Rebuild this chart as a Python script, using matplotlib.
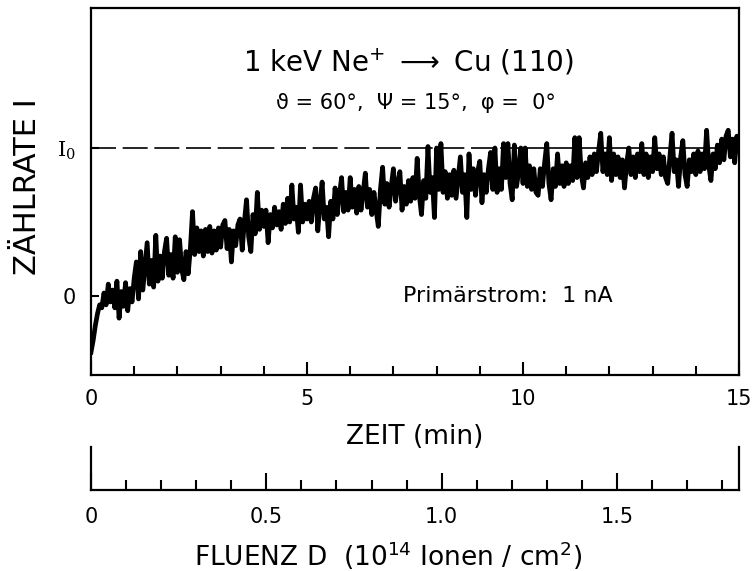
import numpy as np
import matplotlib.pyplot as plt
from matplotlib.ticker import MultipleLocator

plt.rcParams['font.family'] = ['DejaVu Sans']
plt.rcParams['mathtext.default'] = 'regular'

rate = [
    -0.38, -0.30, -0.20, -0.12, -0.06, -0.08, 0.02, -0.06, 0.08, -0.04,
    0.04, -0.08, 0.10, -0.15, 0.03, -0.07, 0.09, -0.10, 0.05, -0.04,
    0.12, 0.23, -0.02, 0.30, 0.04, 0.20, 0.36, 0.08, 0.24, 0.06,
    0.41, 0.10, 0.27, 0.12, 0.30, 0.39, 0.14, 0.28, 0.12, 0.40,
    0.16, 0.38, 0.18, 0.11, 0.30, 0.15, 0.32, 0.57, 0.28, 0.46,
    0.30, 0.44, 0.27, 0.45, 0.30, 0.47, 0.29, 0.44, 0.31, 0.46,
    0.33, 0.48, 0.51, 0.32, 0.45, 0.23, 0.44, 0.34, 0.48, 0.52,
    0.31, 0.50, 0.65, 0.40, 0.30, 0.55, 0.42, 0.70, 0.45, 0.58,
    0.47, 0.58, 0.36, 0.55, 0.46, 0.60, 0.48, 0.57, 0.45, 0.62,
    0.49, 0.66, 0.50, 0.75, 0.52, 0.60, 0.43, 0.75, 0.50, 0.62,
    0.52, 0.64, 0.50, 0.66, 0.73, 0.44, 0.62, 0.77, 0.52, 0.60,
    0.40, 0.64, 0.52, 0.73, 0.55, 0.68, 0.80, 0.57, 0.70, 0.58,
    0.80, 0.60, 0.72, 0.56, 0.74, 0.58, 0.70, 0.83, 0.60, 0.72,
    0.55, 0.70, 0.58, 0.47, 0.72, 0.87, 0.62, 0.76, 0.60, 0.74,
    0.86, 0.64, 0.76, 0.84, 0.58, 0.74, 0.62, 0.78, 0.64, 0.80,
    0.66, 0.93, 0.68, 0.55, 0.78, 0.66, 1.01, 0.70, 0.80, 0.53,
    1.00, 0.72, 1.03, 0.70, 0.84, 0.66, 0.82, 0.68, 0.85, 0.66,
    0.80, 0.94, 0.70, 0.82, 0.53, 0.96, 0.72, 0.86, 0.68, 0.84,
    0.91, 0.63, 0.82, 0.70, 0.86, 0.97, 0.72, 1.00, 0.70, 0.86,
    0.72, 1.03, 0.80, 1.03, 0.76, 0.65, 1.02, 0.74, 0.84, 1.00,
    0.76, 1.00, 0.74, 0.88, 0.72, 0.86, 0.70, 0.68, 0.86, 0.74,
    0.90, 1.03, 0.76, 0.65, 0.86, 0.74, 0.96, 0.76, 0.88, 0.74,
    0.90, 0.76, 0.88, 0.78, 1.07, 0.80, 1.07, 0.82, 0.73, 0.90,
    0.80, 0.94, 0.82, 0.96, 0.84, 0.98, 1.10, 0.84, 0.96, 0.82,
    1.07, 0.78, 0.96, 0.82, 0.94, 0.80, 0.92, 0.73, 0.90, 1.00,
    0.82, 0.94, 0.80, 0.96, 0.84, 1.03, 0.82, 0.96, 0.80, 0.94,
    0.84, 1.07, 0.86, 0.96, 0.82, 0.94, 0.80, 0.76, 0.94, 1.10,
    0.84, 0.92, 0.74, 0.94, 1.05, 0.82, 0.74, 0.92, 0.84, 0.96,
    0.82, 0.98, 0.84, 0.96, 0.86, 1.12, 0.88, 0.78, 0.96, 0.86,
    1.02, 0.90, 1.06, 0.92, 1.08, 1.12, 0.94, 1.06, 0.90, 1.08,
    0.98,
]
zeit = np.linspace(0, 15, len(rate))

zeit_major = [0, 5, 10, 15]
fluenz_max = 1.848          # 10^14 Ionen/cm^2 nach 15 min
fluenz_major = [0, 0.5, 1.0, 1.5]
fluenz_labels = ['0', '0.5', '1.0', '1.5']

W, H = 755, 571


def fx(px):
    return px / W


def fy(py):
    return 1 - py / H


fig = plt.figure(figsize=(W / 100, H / 100), dpi=100)

# Hauptdiagramm: Zaehlrate gegen Zeit
ax = fig.add_axes([fx(91), fy(375), fx(739) - fx(91), fy(8) - fy(375)])
ax.plot(zeit, rate, color='black', lw=3.4, zorder=3)
ax.plot([0, 9.5], [1, 1], color='black', lw=1.2, dashes=(15, 4), zorder=2)
ax.plot([9.5, 14.5], [1, 1], color='black', lw=1.2, zorder=2)
ax.set_xlim(0, 15)
ax.set_ylim(-0.534, 1.946)
for s in ax.spines.values():
    s.set_linewidth(1.6)
ax.set_xticks(zeit_major)
ax.xaxis.set_minor_locator(MultipleLocator(1))
ax.tick_params(axis='x', which='major', direction='in', length=9.5, width=1.5,
               pad=10, labelsize=15)
ax.tick_params(axis='x', which='minor', direction='in', length=6.5, width=1.5)
ax.set_yticks([0, 1])
ax.set_yticklabels(['0', '$I_0$'])
ax.get_yticklabels()[1].set_family('DejaVu Serif')
ax.tick_params(axis='y', direction='in', length=6, width=1.5, pad=11,
               labelsize=15)

fig.text(fx(415), fy(437), 'ZEIT (min)', fontsize=19, ha='center', va='center')
fig.text(fx(28), fy(187), 'ZÄHLRATE I', fontsize=22, rotation=90,
         ha='center', va='center')
fig.text(fx(408), fy(62), r'1 keV Ne$^{+}$ $\longrightarrow$ Cu (110)',
         fontsize=20, ha='center', va='center')
fig.text(fx(416), fy(103), 'ϑ = 60°,  Ψ = 15°,  φ =  0°',
         fontsize=15, ha='center', va='center')
fig.text(fx(508), fy(296), 'Primärstrom:  1 nA', fontsize=16,
         ha='center', va='center')

# Zweite Skala: Fluenz
ax2 = fig.add_axes([fx(91), fy(490), fx(739) - fx(91), fy(447) - fy(490)])
ax2.set_xlim(0, fluenz_max)
ax2.set_ylim(0, 1)
ax2.spines['top'].set_visible(False)
for s in ax2.spines.values():
    s.set_linewidth(1.6)
ax2.set_yticks([])
ax2.set_xticks(fluenz_major)
ax2.set_xticklabels(fluenz_labels)
ax2.xaxis.set_minor_locator(MultipleLocator(0.1))
ax2.tick_params(axis='x', which='major', direction='in', length=12, width=1.5,
                pad=12, labelsize=15)
ax2.tick_params(axis='x', which='minor', direction='in', length=7, width=1.5)
fig.text(fx(388), fy(556), r'FLUENZ D  (10$^{14}$ Ionen / cm$^{2}$)',
         fontsize=19, ha='center', va='center')

fig.savefig('out.png', dpi=100)
